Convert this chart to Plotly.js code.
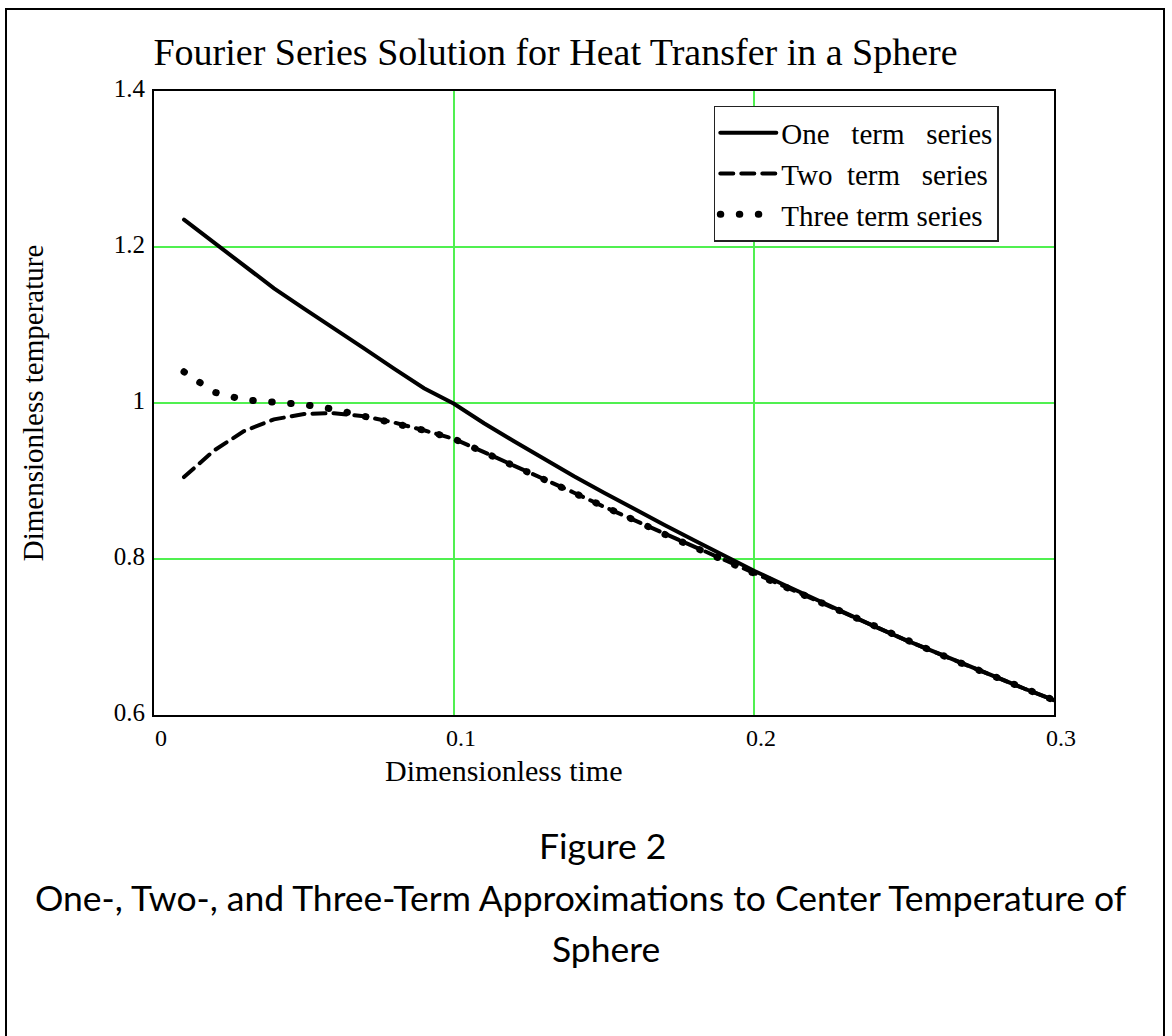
<!DOCTYPE html>
<html>
<head>
<meta charset="utf-8">
<script src="https://cdn.plot.ly/plotly-3.0.1.min.js"></script>
<style>
  html, body { margin: 0; padding: 0; background: #fff; }
  #frame { position: absolute; left: 5px; top: 8px; width: 1160px; height: 1040px; border: 2px solid #000; box-sizing: border-box; pointer-events: none; }
  #chart { position: absolute; left: 0; top: 0; width: 1172px; height: 1036px; }
  path.js-line { stroke-linecap: round !important; }
</style>
</head>
<body>
<div id="chart"></div>
<div id="frame"></div>
<script>
// Dimensionless time (Fourier number)
const timeValues = [0.01, 0.02, 0.03, 0.04, 0.05, 0.06, 0.07, 0.08, 0.09, 0.10,
                    0.11, 0.12, 0.13, 0.14, 0.15, 0.16, 0.17, 0.18, 0.19, 0.20,
                    0.21, 0.22, 0.23, 0.24, 0.25, 0.26, 0.27, 0.28, 0.29, 0.30];
// Dimensionless centre temperature
const oneTerm = [1.235, 1.206, 1.176, 1.147, 1.121, 1.096, 1.070, 1.044, 1.019, 0.999,
                 0.974, 0.951, 0.928, 0.906, 0.885, 0.864, 0.844, 0.824, 0.804, 0.785,
                 0.767, 0.749, 0.731, 0.714, 0.697, 0.681, 0.665, 0.649, 0.634, 0.619];
const twoTerm = [0.905, 0.939, 0.964, 0.979, 0.986, 0.987, 0.983, 0.975, 0.965, 0.954,
                 0.937, 0.920, 0.903, 0.885, 0.867, 0.850, 0.832, 0.815, 0.798, 0.781,
                 0.764, 0.747, 0.730, 0.713, 0.697, 0.681, 0.665, 0.649, 0.634, 0.619];
const threeTerm = [1.040, 1.014, 1.004, 1.001, 0.998, 0.992, 0.983, 0.975, 0.965, 0.954,
                   0.937, 0.920, 0.903, 0.885, 0.867, 0.850, 0.832, 0.815, 0.798, 0.781,
                   0.764, 0.747, 0.730, 0.713, 0.697, 0.681, 0.665, 0.649, 0.634, 0.619];
const seriesNames = ["One\u00a0\u00a0 term\u00a0\u00a0 series", "Two\u00a0 term\u00a0\u00a0 series", "Three term series"];
const xTicks = [0, 0.1, 0.2, 0.3];
const xTickLabels = ["0", "0.1", "0.2", "0.3"];
const yTicks = [0.6, 0.8, 1.0, 1.2, 1.4];
const yTickLabels = ["0.6", "0.8", "1", "1.2", "1.4"];

const serif = "Liberation Serif, Times New Roman, serif";
const sans = "Lato, Carlito, Calibri, sans-serif";

const traces = [
  { x: timeValues, y: oneTerm, name: seriesNames[0], mode: "lines",
    line: { color: "#000", width: 4, dash: "solid" } },
  { x: timeValues, y: twoTerm, name: seriesNames[1], mode: "lines",
    line: { color: "#000", width: 4, dash: "13px,8px" } },
  { x: timeValues, y: threeTerm, name: seriesNames[2], mode: "lines",
    line: { color: "#000", width: 7, dash: "0.5px,18.5px" } }
];

const layout = {
  width: 1172, height: 1036,
  margin: { l: 154, r: 118, t: 91, b: 321 },
  paper_bgcolor: "#fff", plot_bgcolor: "#fff",
  font: { family: serif, color: "#000" },
  showlegend: true,
  title: { text: "Fourier Series Solution for Heat Transfer in a Sphere",
           font: { family: serif, size: 38, color: "#000" },
           xref: "container", x: 0.474, xanchor: "center",
           yref: "container", y: 0.95, yanchor: "middle" },
  xaxis: { range: [0, 0.3], tickvals: xTicks, ticktext: xTickLabels,
           showline: true, mirror: true, linecolor: "#000", linewidth: 2,
           showgrid: true, gridcolor: "#50f050", gridwidth: 1.3,
           zeroline: false, ticks: "", ticklabelshift: 7,
           tickfont: { family: serif, size: 24, color: "#000" } },
  yaxis: { range: [0.6, 1.4], tickvals: yTicks, ticktext: yTickLabels,
           showline: true, mirror: true, linecolor: "#000", linewidth: 2,
           showgrid: true, gridcolor: "#50f050", gridwidth: 1.3,
           zeroline: false, ticks: "", ticklabelstandoff: 2, ticklabelshift: -3,
           tickfont: { family: serif, size: 25, color: "#000" },
           title: { text: "Dimensionless temperature", standoff: 62,
                    font: { family: serif, size: 29, color: "#000" } } },
  legend: { x: 0.622, y: 0.976, xanchor: "left", yanchor: "top",
            bgcolor: "#fff", bordercolor: "#222", borderwidth: 1.5,
            itemwidth: 56, traceorder: "normal",
            font: { family: serif, size: 29, color: "#000" } },
  annotations: [
    { text: "Dimensionless time", xref: "paper", yref: "paper",
      x: (503 - 154) / 900, y: -(770 - 715) / 624, xanchor: "center", yanchor: "middle",
      showarrow: false, font: { family: serif, size: 30, color: "#000" } },
    { text: "Figure 2", xref: "paper", yref: "paper",
      x: (602 - 154) / 900, y: -(845 - 715) / 624, xanchor: "center", yanchor: "middle",
      showarrow: false, font: { family: sans, size: 35.5, color: "#000" } },
    { text: "One-, Two-, and Three-Term Approximations to Center Temperature of", xref: "paper", yref: "paper",
      x: (581 - 154) / 900, y: -(897 - 715) / 624, xanchor: "center", yanchor: "middle",
      showarrow: false, font: { family: sans, size: 35.5, color: "#000" } },
    { text: "Sphere", xref: "paper", yref: "paper",
      x: (606 - 154) / 900, y: -(948 - 715) / 624, xanchor: "center", yanchor: "middle",
      showarrow: false, font: { family: sans, size: 35.5, color: "#000" } }
  ]
};

Plotly.newPlot("chart", traces, layout, { displayModeBar: false, staticPlot: true });
</script>
</body>
</html>
